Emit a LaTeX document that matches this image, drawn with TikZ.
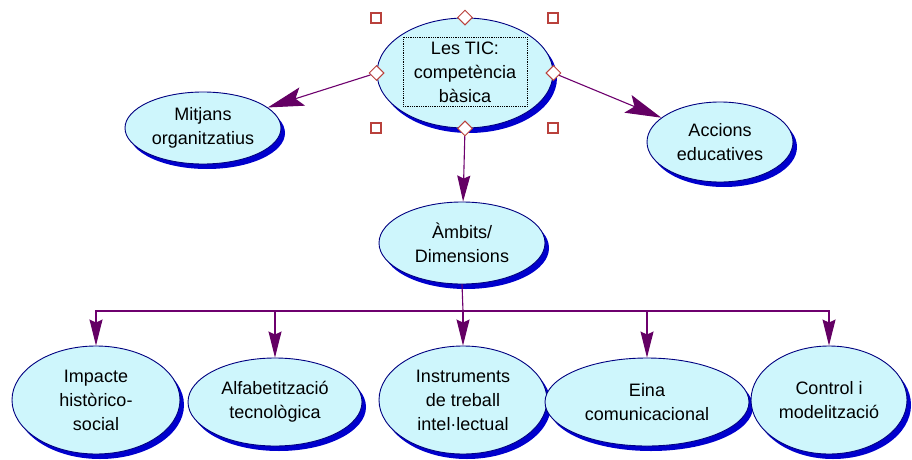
\documentclass[tikz,border=0pt]{standalone}
\usepackage{fontspec}
\setmainfont{Liberation Sans}
\usetikzlibrary{shapes.geometric,shadows,arrows.meta}
\definecolor{ellfill}{RGB}{206,246,252}
\definecolor{elldraw}{RGB}{0,0,128}
\definecolor{shadowblue}{RGB}{0,0,205}
\definecolor{linepurple}{RGB}{110,0,110}
\definecolor{tipfill}{RGB}{100,0,100}
\definecolor{handle}{RGB}{185,65,60}
\tikzset{
  bubble/.style={ellipse, draw=elldraw, line width=0.9pt, fill=ellfill, inner sep=0pt,
    align=center, font=\fontsize{18}{24}\selectfont,
    drop shadow={shadow xshift=4pt, shadow yshift=-5pt, fill=shadowblue, opacity=1}},
  conn/.style={draw=linepurple, line width=1.1pt,
    -{Stealth[length=26pt,width=13pt,inset=3pt,fill=tipfill,color=tipfill]}},
  diag/.style={draw=linepurple, line width=1.1pt,
    -{Stealth[length=36pt,width=19pt,inset=7pt,fill=tipfill,color=tipfill]}},
  plain/.style={draw=linepurple, line width=1.1pt},
  sqhandle/.style={rectangle, draw=handle, fill=white, line width=1.6pt, minimum size=10pt, inner sep=0pt},
  dmhandle/.style={diamond, draw=handle, fill=white, line width=1pt, minimum size=15pt, inner sep=0pt},
  textbox/.style={rectangle, draw=black, densely dotted, line width=0.8pt, minimum width=124pt, minimum height=69pt, inner sep=0pt}
}
\begin{document}
\begin{tikzpicture}[x=1pt,y=-1pt]
\useasboundingbox[fill=white] (0,0) rectangle (912,460);

% main nodes
\node[bubble, minimum width=176pt, minimum height=110pt] (top) at (465,73) {};
\node[textbox, align=center, font=\fontsize{18}{24}\selectfont] (toptext) at (465,72) {Les TIC:\\competència\\bàsica};

\node[bubble, minimum width=156pt, minimum height=72pt] (mit) at (203,128) {Mitjans\\organitzatius};
\node[bubble, minimum width=146pt, minimum height=80pt] (acc) at (720,142) {Accions\\educatives};
\node[bubble, minimum width=166pt, minimum height=82pt] (amb) at (462,243) {Àmbits/\\Dimensions};

\node[bubble, minimum width=168pt, minimum height=108pt] (imp) at (96,400) {Impacte\\històrico-\\social};
\node[bubble, minimum width=174pt, minimum height=88pt] (alf) at (275,402) {Alfabetització\\tecnològica};
\node[bubble, minimum width=168pt, minimum height=108pt] (ins) at (463,400) {Instruments\\de treball\\intel·lectual};
\node[bubble, minimum width=204pt, minimum height=88pt] (ein) at (647,402) {Eina\\comunicacional};
\node[bubble, minimum width=156pt, minimum height=108pt] (con) at (829,400) {Control i\\modelització};

% selection handles
\node[sqhandle] (s1) at (376,18) {};
\node[sqhandle] (s2) at (553,18) {};
\node[sqhandle] (s3) at (376,128) {};
\node[sqhandle] (s4) at (553,128) {};

% connectors
\node[dmhandle] (dN) at (top.north) {};
\node[dmhandle] (dW) at (top.west) {};
\node[dmhandle] (dE) at (top.east) {};
\node[dmhandle] (dS) at (top.south) {};

\draw[diag] (dW) -- (mit);
\draw[diag] (dE) -- (acc);
\draw[conn] (dS) -- (amb);

\coordinate (hub) at (463,311);
\draw[plain] (amb.south) -- (hub);
\draw[conn] (hub) -| (imp.north);
\draw[conn] (hub) -| (alf.north);
\draw[conn] (hub) -- (ins.north);
\draw[conn] (hub) -| (ein.north);
\draw[conn] (hub) -| (con.north);
\end{tikzpicture}
\end{document}
